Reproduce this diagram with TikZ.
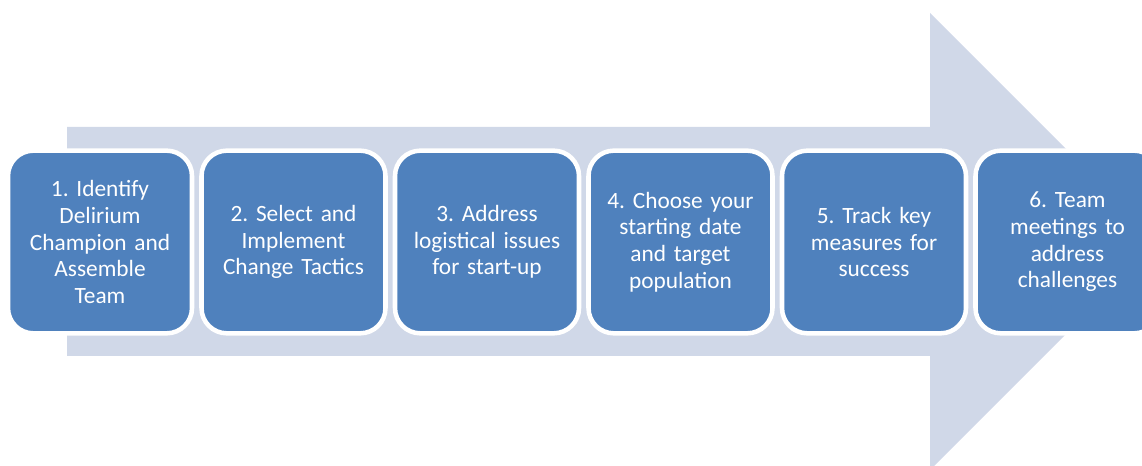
\documentclass[tikz,border=0pt]{standalone}
\usepackage{fontspec}
\setmainfont{Carlito}
\frenchspacing
\definecolor{stageblue}{HTML}{4F81BD}
\definecolor{arrowgrey}{HTML}{D0D8E8}

\begin{document}
\begin{tikzpicture}[x=0.75pt, y=0.75pt,
    stage/.style={rectangle, rounded corners=19pt, fill=stageblue, draw=white, line width=3.4pt,
      minimum width=138pt, minimum height=137pt, text width=124pt, align=center, inner sep=0pt,
      text=white, font=\fontsize{17.5}{20}\selectfont\frenchspacing}]
  \useasboundingbox (0,0) rectangle (1142,466);
  \clip (0,0) rectangle (1142,466);

  % big arrow behind the steps
  \fill[arrowgrey] (67,110) -- (930,110) -- (930,-4) -- (1158.5,224.5) -- (930,453)
    -- (930,339) -- (67,339) -- cycle;

  \foreach \i/\txt in {1/{1. Identify\\Delirium\\Champion and\\Assemble\\Team},
      2/{2. Select and\\Implement\\Change Tactics},
      3/{3. Address\\logistical issues\\for start-up},
      4/{4. Choose your\\starting date\\and target\\population},
      5/{5. Track key\\measures for\\success},
      6/{6. Team\\meetings to\\address\\challenges}}
    \node[stage] (s\i) at ({100+193.5*(\i-1)},224) {\txt};
\end{tikzpicture}
\end{document}
